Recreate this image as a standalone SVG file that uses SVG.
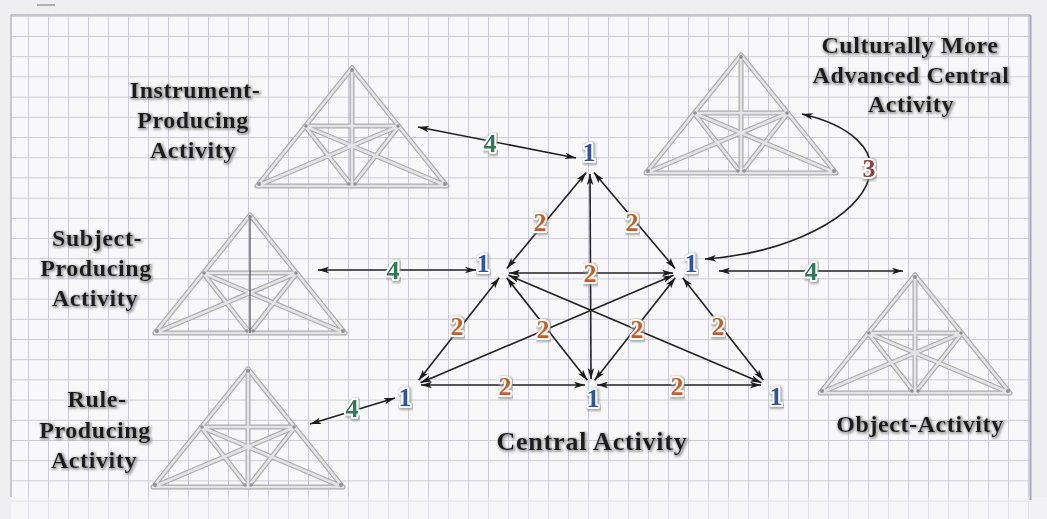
<svg xmlns="http://www.w3.org/2000/svg" xmlns:xlink="http://www.w3.org/1999/xlink" width="1047" height="519" viewBox="0 0 1047 519">
  <defs>
    <pattern id="grid" patternUnits="userSpaceOnUse" x="8" y="15.8" width="20" height="20.2">
      <path d="M0.5 0 V20.2 M0 0.5 H20" fill="none" stroke="#cacad8" stroke-width="1"/>
    </pattern>
    <filter id="shadow" x="-10%" y="-20%" width="120%" height="140%">
      <feMorphology in="SourceAlpha" operator="dilate" radius="1" result="d"/>
      <feGaussianBlur in="d" stdDeviation="1.2" result="b"/>
      <feOffset in="b" dx="1" dy="1" result="o"/>
      <feFlood flood-color="#8a8a8a" flood-opacity="0.7"/>
      <feComposite in2="o" operator="in" result="s"/>
      <feMerge><feMergeNode in="s"/><feMergeNode in="SourceGraphic"/></feMerge>
    </filter>
    <marker id="ah" viewBox="0 0 10 6" refX="10" refY="3" markerWidth="11" markerHeight="7" markerUnits="userSpaceOnUse" orient="auto-start-reverse">
      <path d="M0 0 L10 3 L0 6 L2.5 3 z" fill="#1c1c1c"/>
    </marker>
    <path id="tri-frame" d="M0 0 L-95 118 M0 0 L95 118 M-95 118 H95 M-47 58 H47 M-47 58 L0 118 M47 58 L0 118 M-47 58 L95 118 M47 58 L-95 118"/>
    <path id="tri-vert" d="M0 0 V118"/>
    <g id="dots" class="dot">
      <circle cx="0" cy="2" r="2"/><circle cx="-93" cy="116" r="2"/><circle cx="93" cy="116" r="2"/>
      <circle cx="-3" cy="116" r="1.8"/><circle cx="3" cy="116" r="1.8"/>
      <circle cx="-46" cy="58" r="1.8"/><circle cx="46" cy="58" r="1.8"/>
    </g>
    <g id="tri">
      <use xlink:href="#tri-frame" class="bar-o"/>
      <use xlink:href="#tri-vert" class="bar-o"/>
      <use xlink:href="#tri-frame" class="bar-i"/>
      <use xlink:href="#tri-vert" class="bar-i"/>
      <use xlink:href="#dots"/>
    </g>
    <g id="tri-dark">
      <use xlink:href="#tri-frame" class="bar-o"/>
      <use xlink:href="#tri-frame" class="bar-i"/>
      <use xlink:href="#tri-vert" class="vdark"/>
      <use xlink:href="#dots"/>
    </g>
  </defs>
  <style>
    .bar-o { fill: none; stroke: #acacb0; stroke-width: 5; stroke-linecap: round; }
    .bar-i { fill: none; stroke: #e4e4e6; stroke-width: 2.6; stroke-linecap: round; }
    .vdark { fill: none; stroke: #3a3a3a; stroke-width: 1.1; }
    .dot circle { fill: #909094; }
    .lbl { font-family: "Liberation Serif", "Times New Roman", serif; font-weight: bold; font-size: 24px; fill: #1a1a1a; text-anchor: middle; letter-spacing: 0.6px; filter: url(#shadow); }
    .num { font-family: "Liberation Serif", "Times New Roman", serif; font-weight: bold; font-size: 26px; text-anchor: middle; paint-order: stroke; stroke: #ffffff; stroke-width: 4px; stroke-linejoin: round; filter: url(#shadow); }
    .n1 { fill: #2c52aa; }
    .n2 { fill: #cf5a1f; }
    .n3 { fill: #953a3c; }
    .n4 { fill: #2e7b57; }
    .arr { fill: none; stroke: #222222; stroke-width: 1.6; marker-start: url(#ah); marker-end: url(#ah); }
  </style>

  <!-- page / graph paper -->
  <rect x="0" y="0" width="1047" height="519" fill="#efeff1"/>
  <rect x="11" y="15" width="1019" height="504" fill="#f8f8fa"/>
  <rect x="11" y="15" width="1019" height="504" fill="url(#grid)"/>
  <rect x="11" y="497" width="1036" height="22" fill="#f6f6f8" opacity="0.5"/>
  <path d="M11 15 H1030 M11 15 V497" fill="none" stroke="#b8b8c4" stroke-width="1.5"/>
  <path d="M1030.5 15 V500" fill="none" stroke="#a8a8b4" stroke-width="2"/>
  <path d="M37 5 H55" stroke="#9a9aa2" stroke-width="1.5"/>

  <!-- nodes -->
  <g id="instrument-producing">
    <use xlink:href="#tri" transform="translate(352,68)"/>
    <text class="lbl" x="195" y="98">Instrument-</text>
    <text class="lbl" x="193" y="128">Producing</text>
    <text class="lbl" x="193" y="158">Activity</text>
  </g>
  <g id="culturally-advanced">
    <use xlink:href="#tri" transform="translate(741,55)"/>
    <text class="lbl" x="910" y="53">Culturally More</text>
    <text class="lbl" x="911" y="83">Advanced Central</text>
    <text class="lbl" x="911" y="112">Activity</text>
  </g>
  <g id="subject-producing">
    <use xlink:href="#tri-dark" transform="translate(250,215)"/>
    <text class="lbl" x="97" y="246">Subject-</text>
    <text class="lbl" x="96" y="276">Producing</text>
    <text class="lbl" x="95" y="306">Activity</text>
  </g>
  <g id="rule-producing">
    <use xlink:href="#tri" transform="translate(248,369)"/>
    <text class="lbl" x="97" y="407">Rule-</text>
    <text class="lbl" x="95" y="438">Producing</text>
    <text class="lbl" x="94" y="468">Activity</text>
  </g>
  <g id="object-activity">
    <use xlink:href="#tri" transform="translate(915,275)"/>
    <text class="lbl" x="920" y="432">Object-Activity</text>
  </g>

  <!-- connectors -->
  <g id="connectors">
    <!-- central activity system -->
    <line class="arr" x1="586.2" y1="172.6" x2="506.8" y2="268.4"/>
    <line class="arr" x1="593.9" y1="172.6" x2="675.1" y2="268.4"/>
    <line class="arr" x1="590" y1="174" x2="591" y2="379"/>
    <line class="arr" x1="509" y1="273" x2="673" y2="273"/>
    <line class="arr" x1="499.3" y1="277.7" x2="418.7" y2="380.3"/>
    <line class="arr" x1="682.7" y1="277.7" x2="763.3" y2="380.3"/>
    <line class="arr" x1="506.7" y1="277.7" x2="587.3" y2="380.3"/>
    <line class="arr" x1="675.3" y1="277.7" x2="594.7" y2="380.3"/>
    <line class="arr" x1="508.5" y1="275.3" x2="761.5" y2="382.7"/>
    <line class="arr" x1="673.5" y1="275.3" x2="420.5" y2="382.7"/>
    <line class="arr" x1="421" y1="385" x2="585" y2="385"/>
    <line class="arr" x1="597" y1="385" x2="761" y2="385"/>
    <!-- network links -->
    <line class="arr" x1="418" y1="127" x2="576" y2="158"/>
    <line class="arr" x1="318" y1="270" x2="476" y2="270"/>
    <line class="arr" x1="719" y1="271" x2="903" y2="271"/>
    <line class="arr" x1="310" y1="424" x2="395" y2="398"/>
    <path class="arr" d="M802 114 C850 125 878 150 869 178 C859 216 790 253 705 259"/>

    <text class="num n2" x="540" y="231">2</text>
    <text class="num n2" x="632" y="231">2</text>
    <text class="num n2" x="590" y="282">2</text>
    <text class="num n2" x="457" y="335">2</text>
    <text class="num n2" x="718" y="335">2</text>
    <text class="num n2" x="543" y="338">2</text>
    <text class="num n2" x="637" y="338">2</text>
    <text class="num n2" x="505" y="395">2</text>
    <text class="num n2" x="677" y="395">2</text>

    <text class="num n4" x="490" y="152">4</text>
    <text class="num n4" x="393" y="279">4</text>
    <text class="num n4" x="811" y="280">4</text>
    <text class="num n4" x="352" y="417">4</text>
    <text class="num n3" x="869" y="177">3</text>
  </g>

  <g id="central-activity">
    <text class="num n1" x="589" y="161">1</text>
    <text class="num n1" x="483" y="272">1</text>
    <text class="num n1" x="691" y="272">1</text>
    <text class="num n1" x="405" y="406">1</text>
    <text class="num n1" x="593" y="407">1</text>
    <text class="num n1" x="776" y="405">1</text>
    <text class="lbl" x="592" y="450" style="font-size:26px;letter-spacing:0.8px">Central Activity</text>
  </g>
</svg>
